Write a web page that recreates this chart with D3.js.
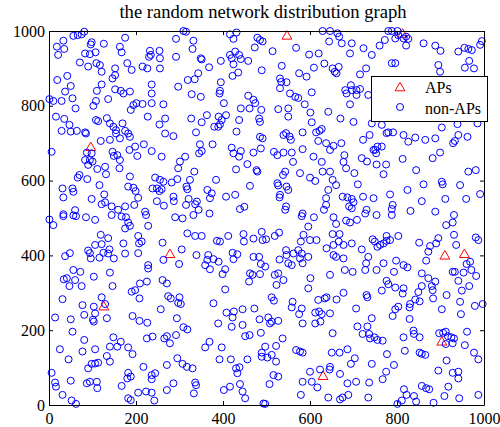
<!DOCTYPE html>
<html>
<head>
<meta charset="utf-8">
<script src="https://cdnjs.cloudflare.com/ajax/libs/d3/7.8.5/d3.min.js"></script>
<style>
  body { margin: 0; background: #fff; }
  #chart { width: 500px; height: 427px; }
</style>
</head>
<body>
<div id="chart"></div>
<script>
var titleText = 'the random network distribution graph';
var legendLabels = ['APs', 'non-APs'];
var tickValues = [0, 200, 400, 600, 800, 1000];

// access points (red triangles)
var apPoints = [[96,690],[547,988],[813,993],[278,404],[126,264],[630,78],[910,400],[955,404],[903,170]];

// ordinary nodes (blue circles)
var nonApPoints = [
  [81,998],[75,991],[66,989],[56,987],[33,974],[18,958],[35,952],[21,936],[98,970],[96,964],[175,982],[163,958],[167,943],[83,940],[94,938],[107,943],[232,947],[234,936],[230,931],[71,916],[90,905],[109,914],[117,909],[121,891],[152,900],[152,882],[146,873],[180,914],[190,896],[215,905],[226,900],[42,880],[19,869],[50,853],[37,838],[121,857],[110,840],[152,844],[165,840],[171,833],[186,838],[236,857],[236,833],[1,818],[10,813],[29,813],[54,820],[61,793],[108,813],[102,800],[136,818],[194,802],[201,807],[188,789],[215,805],[236,807],[227,771],[16,771],[35,765],[47,749],[29,733],[50,731],[64,733],[83,729],[85,726],[108,762],[113,759],[133,767],[140,753],[148,744],[154,735],[169,753],[175,733],[182,726],[154,726],[186,717],[163,713],[119,706],[140,709],[6,677],[87,675],[98,673],[83,655],[94,655],[100,651],[90,642],[111,631],[129,637],[131,617],[146,677],[149,666],[157,668],[163,655],[162,633],[185,682],[198,691],[203,666],[218,697],[236,679],[70,615],[66,608],[88,604],[116,588],[186,611],[182,584],[194,581],[199,572],[31,579],[54,579],[33,555],[56,570],[98,551],[127,563],[129,542],[121,537],[144,531],[159,522],[175,531],[205,554],[196,535],[60,521],[33,510],[221,517],[238,579],[126,966],
  [309,1000],[315,998],[292,979],[332,974],[330,952],[292,931],[349,927],[351,924],[368,903],[416,991],[431,996],[424,979],[395,920],[416,936],[428,945],[437,936],[420,927],[424,911],[441,925],[458,920],[435,889],[422,880],[479,982],[485,976],[473,956],[489,895],[254,947],[255,927],[255,900],[343,887],[335,871],[319,869],[297,851],[395,863],[393,840],[392,833],[328,831],[349,824],[263,804],[402,807],[458,827],[470,816],[474,807],[441,793],[461,793],[488,789],[267,766],[254,750],[327,766],[351,756],[363,775],[390,771],[407,775],[397,762],[393,750],[380,744],[389,744],[437,762],[483,766],[485,757],[267,726],[286,719],[338,729],[431,731],[485,717],[491,713],[259,664],[347,697],[351,679],[345,673],[376,697],[313,664],[301,651],[297,633],[420,688],[424,673],[441,679],[437,664],[470,675],[487,686],[456,644],[430,630],[477,628],[479,624],[334,624],[244,608],[255,602],[263,597],[248,579],[259,577],[254,572],[282,595],[295,604],[324,602],[316,584],[318,577],[384,602],[364,575],[374,566],[370,553],[407,557],[428,562],[462,586],[286,557],[287,545],[321,551],[340,544],[336,537],[344,522],[248,545],[264,533],[315,535],[439,524],[449,530],[491,972],
  [629,1000],[646,1000],[663,994],[667,985],[644,972],[673,967],[696,967],[692,940],[723,954],[742,936],[514,946],[568,955],[598,937],[620,940],[633,913],[609,902],[535,907],[652,900],[657,891],[666,904],[661,887],[729,900],[715,884],[575,887],[592,878],[531,873],[534,864],[546,863],[531,847],[554,833],[566,824],[573,821],[604,836],[681,842],[684,833],[694,855],[696,842],[707,842],[715,845],[707,829],[692,804],[734,829],[588,804],[527,791],[550,793],[550,771],[601,782],[642,784],[670,766],[700,757],[742,753],[604,756],[583,729],[614,729],[622,733],[627,738],[619,706],[539,722],[545,727],[553,718],[556,709],[517,677],[525,668],[539,675],[558,675],[583,684],[561,650],[608,664],[627,650],[637,700],[654,693],[646,682],[672,700],[679,668],[677,650],[683,633],[702,620],[719,660],[731,651],[722,709],[737,722],[746,682],[577,620],[600,608],[612,599],[629,624],[646,624],[652,602],[660,588],[642,575],[637,553],[637,535],[632,522],[543,624],[538,615],[525,593],[527,587],[546,584],[550,575],[531,562],[530,555],[545,531],[543,522],[583,512],[675,557],[686,555],[696,551],[700,542],[690,531],[696,526],[722,557],[710,590],[730,522],[746,553],
  [780,1000],[788,1000],[801,1000],[803,989],[815,980],[821,985],[826,979],[821,961],[796,980],[772,976],[760,961],[861,967],[888,961],[900,947],[941,945],[955,955],[964,952],[972,949],[995,973],[991,963],[966,920],[956,902],[977,900],[788,914],[796,914],[895,909],[899,891],[765,749],[776,727],[780,729],[791,729],[815,722],[826,704],[842,715],[865,709],[888,713],[903,742],[939,751],[985,753],[941,722],[962,717],[933,706],[929,700],[755,691],[765,691],[750,682],[752,673],[899,675],[753,643],[775,643],[769,617],[813,658],[882,660],[844,628],[964,624],[981,628],[903,597],[905,590],[861,590],[945,588],[991,564],[959,551],[784,563],[824,575],[857,545],[911,551],[790,535],[788,524],[831,519],[888,517],
  [1,496],[10,481],[33,505],[56,507],[62,505],[85,502],[106,495],[144,508],[167,504],[177,502],[182,488],[186,479],[175,472],[223,508],[228,479],[119,455],[136,446],[106,428],[121,430],[90,413],[94,406],[125,407],[139,416],[136,405],[149,392],[96,392],[116,394],[171,432],[175,405],[205,452],[207,432],[213,437],[205,406],[37,398],[48,406],[228,374],[228,365],[56,361],[72,356],[34,336],[41,339],[60,334],[47,318],[75,318],[103,343],[140,354],[146,318],[190,303],[198,307],[209,325],[225,330],[208,285],[31,283],[77,267],[103,263],[121,288],[129,270],[106,245],[81,241],[103,223],[101,228],[133,232],[14,234],[50,229],[54,196],[192,238],[208,225],[226,220],[148,181],[165,169],[157,156],[140,156],[133,131],[140,116],[182,154],[192,136],[225,178],[238,183],[81,174],[106,149],[77,143],[25,149],[45,122],[90,98],[98,110],[106,111],[113,113],[217,102],[182,86],[180,71],[188,76],[236,80],[236,69],[6,86],[14,60],[16,49],[50,65],[87,58],[94,62],[110,62],[111,45],[167,51],[31,27],[52,12],[62,3],[182,18],[188,13],[205,33],[223,36],[236,33],
  [290,502],[307,499],[332,508],[369,512],[318,459],[336,452],[351,452],[386,439],[393,437],[412,452],[447,457],[448,437],[470,445],[489,463],[491,441],[261,434],[305,416],[263,388],[299,377],[339,401],[366,401],[364,388],[378,390],[390,383],[359,374],[370,363],[405,363],[399,350],[422,407],[433,403],[424,390],[470,396],[483,396],[487,377],[462,352],[468,348],[460,330],[485,350],[261,334],[271,325],[405,309],[274,291],[280,285],[300,288],[297,273],[303,270],[257,256],[378,272],[294,232],[309,208],[318,202],[389,218],[408,247],[425,250],[422,234],[445,256],[472,258],[484,229],[420,209],[445,214],[451,184],[461,187],[487,193],[271,184],[265,178],[278,165],[292,187],[359,154],[369,169],[397,154],[392,122],[418,122],[430,98],[438,101],[433,85],[456,122],[489,140],[489,129],[295,125],[271,107],[307,110],[317,102],[330,98],[244,85],[286,58],[271,40],[336,60],[338,53],[333,31],[402,40],[416,49],[439,56],[445,36],[451,18],[242,12],[493,4],
  [581,505],[609,502],[654,502],[660,484],[683,493],[692,488],[708,495],[727,512],[596,477],[585,455],[600,441],[615,441],[579,437],[652,457],[668,457],[666,437],[654,428],[638,419],[677,428],[696,432],[719,416],[744,443],[499,443],[519,452],[529,461],[545,414],[546,401],[562,405],[573,414],[581,405],[577,392],[596,396],[583,379],[558,374],[550,379],[530,389],[497,370],[654,401],[660,396],[677,392],[646,348],[680,361],[698,356],[734,396],[729,379],[727,361],[519,348],[527,352],[523,321],[539,334],[601,339],[596,312],[512,288],[517,279],[560,276],[558,261],[581,258],[575,243],[583,218],[619,281],[634,285],[638,288],[661,282],[677,300],[612,247],[621,250],[627,243],[612,218],[624,223],[646,245],[706,258],[730,294],[732,288],[742,232],[504,234],[512,223],[527,225],[508,218],[537,178],[522,158],[497,156],[502,127],[512,134],[522,116],[568,147],[577,143],[583,140],[652,192],[650,140],[668,140],[686,149],[703,125],[694,110],[709,210],[732,210],[721,190],[736,190],[738,178],[742,110],[516,80],[527,76],[507,56],[583,62],[600,89],[604,62],[617,47],[623,95],[645,95],[646,102],[669,83],[686,58],[706,62],[736,60],[579,27],[642,20],[669,15],[675,20],[688,27],[734,20],[497,3],
  [753,508],[788,508],[931,508],[928,488],[913,481],[749,437],[755,423],[761,428],[769,432],[776,439],[784,441],[776,452],[803,452],[851,434],[876,425],[890,432],[895,446],[872,410],[867,386],[931,455],[936,428],[981,448],[987,441],[968,383],[960,377],[971,361],[953,354],[928,356],[933,356],[982,345],[941,332],[966,318],[949,306],[914,294],[945,276],[947,243],[979,265],[997,270],[769,379],[753,361],[798,386],[815,374],[824,368],[793,356],[857,352],[776,332],[780,323],[765,306],[796,314],[815,312],[813,298],[872,339],[888,330],[880,318],[882,307],[857,318],[849,302],[842,282],[852,277],[883,285],[903,256],[830,270],[829,261],[803,263],[796,256],[790,238],[829,230],[838,199],[839,190],[852,181],[815,181],[897,192],[906,193],[912,196],[917,184],[925,181],[931,178],[928,165],[912,163],[961,196],[956,160],[977,140],[987,122],[748,181],[755,174],[767,172],[777,136],[818,145],[852,140],[865,134],[857,137],[914,119],[793,107],[775,89],[767,69],[895,92],[928,86],[941,89],[941,71],[857,51],[867,45],[874,42],[918,49],[816,42],[822,27],[839,24],[844,9],[811,12],[801,3],[884,6],[909,24],[943,18],[987,27]
];

(function() {

  var width = 500;
  var height = 427;
  var fontFamily = '"Liberation Serif", "Times New Roman", serif';
  var radius = 3.5;

  var xScale = d3.scaleLinear()
                 .domain([0, 1000])
                 .range([49, 484]);

  var yScale = d3.scaleLinear()
                 .domain([0, 1000])
                 .range([405, 31]);

  var svg = d3.select('#chart')
    .append('svg')
    .attr('width', width)
    .attr('height', height);

  svg.append('rect')
    .attr('width', width)
    .attr('height', height)
    .attr('fill', '#fff');

  // title
  svg.append('text')
    .attr('x', 263)
    .attr('y', 18)
    .attr('text-anchor', 'middle')
    .style('font-family', fontFamily)
    .style('font-size', '18.6px')
    .text(titleText);

  // APs first, then the nodes on top
  var triangle = d3.symbol().type(d3.symbolTriangle).size(42);

  svg.append('g')
    .selectAll('path')
    .data(apPoints)
    .enter()
    .append('path')
    .attr('d', triangle)
    .attr('transform', function(d) {return 'translate(' + xScale(d[0]) + ',' + (yScale(d[1]) + 0.8) + ')'})
    .attr('fill', 'none')
    .attr('stroke', '#ff0000')
    .attr('stroke-width', 1);

  svg.append('g')
    .selectAll('circle')
    .data(nonApPoints)
    .enter()
    .append('circle')
    .attr('cx', function(d) {return xScale(d[0])})
    .attr('cy', function(d) {return yScale(d[1])})
    .attr('r', radius)
    .attr('fill', 'none')
    .attr('stroke', '#0000ff')
    .attr('stroke-width', 1);

  // box with inward ticks on all four sides
  function styleAxis(g) {
    g.attr('font-family', fontFamily)
     .attr('font-size', 16);
    g.selectAll('.tick text').attr('fill', '#000');
    g.selectAll('path, line').attr('stroke', '#000');
  }

  var fmt = d3.format('d');

  svg.append('g')
    .attr('transform', 'translate(0,' + yScale(0) + ')')
    .call(d3.axisBottom(xScale).tickValues(tickValues).tickFormat(fmt).tickSizeInner(-4).tickSizeOuter(0).tickPadding(8))
    .call(styleAxis);

  svg.append('g')
    .attr('transform', 'translate(' + xScale(0) + ',0)')
    .call(d3.axisLeft(yScale).tickValues(tickValues).tickFormat(fmt).tickSizeInner(-4).tickSizeOuter(0).tickPadding(4))
    .call(styleAxis);

  svg.append('g')
    .attr('transform', 'translate(0,' + yScale(1000) + ')')
    .call(d3.axisTop(xScale).tickValues(tickValues).tickSizeInner(-4).tickSizeOuter(0).tickFormat(''))
    .call(styleAxis);

  svg.append('g')
    .attr('transform', 'translate(' + xScale(1000) + ',0)')
    .call(d3.axisRight(yScale).tickValues(tickValues).tickSizeInner(-4).tickSizeOuter(0).tickFormat(''))
    .call(styleAxis);

  // legend
  var legend = svg.append('g')
    .attr('transform', 'translate(371,76)');

  legend.append('rect')
    .attr('x', 0.5)
    .attr('y', 0.5)
    .attr('width', 116)
    .attr('height', 45)
    .attr('fill', '#fff')
    .attr('stroke', '#000');

  legend.append('path')
    .attr('d', triangle)
    .attr('transform', 'translate(29,12)')
    .attr('fill', 'none')
    .attr('stroke', '#ff0000');

  legend.append('circle')
    .attr('cx', 29)
    .attr('cy', 31)
    .attr('r', radius)
    .attr('fill', 'none')
    .attr('stroke', '#0000ff');

  legend.selectAll('text')
    .data(legendLabels)
    .enter()
    .append('text')
    .attr('x', 54)
    .attr('y', function(d, i) {return 17 + i * 21})
    .style('font-family', fontFamily)
    .style('font-size', '16px')
    .text(function(d) {return d});

})()
</script>
</body>
</html>
